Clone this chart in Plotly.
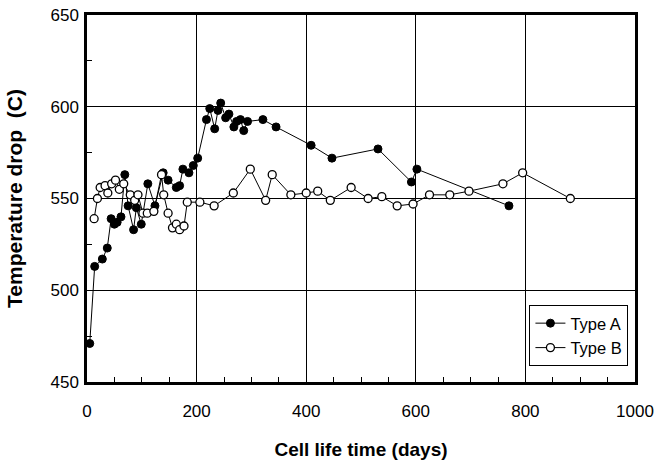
import plotly.graph_objects as go

type_a_days = [5, 14, 28, 37, 44, 50, 55, 62, 69, 75, 85, 90, 99, 111, 124, 139, 148, 163, 169, 175, 186, 194, 202,
               218, 224, 233, 239, 244, 253, 259, 268, 273, 280, 286, 293, 321, 345, 409, 447, 531, 592, 602, 770]
type_a_vals = [471, 513, 517, 523, 539, 536, 537, 540, 563, 546, 533, 545, 536, 558, 546, 564, 560, 556, 557, 566, 564, 568, 572,
               593, 599, 588, 598, 602, 594, 596, 589, 592, 593, 587, 592, 593, 589, 579, 572, 577, 559, 566, 546]

type_b_days = [13, 19, 24, 33, 38, 45, 52, 59, 67, 79, 87, 93, 102, 110, 122, 136, 140, 148, 156, 163, 169, 177, 183,
               206, 232, 267, 298, 326, 338, 372, 400, 421, 444, 482, 513, 538, 566, 595, 625, 662, 697, 759, 795, 882]
type_b_vals = [539, 550, 556, 557, 553, 558, 560, 555, 558, 552, 549, 552, 542, 542, 543, 563, 552, 542, 534, 536, 533, 535, 548,
               548, 546, 553, 566, 549, 563, 552, 553, 554, 549, 556, 550, 551, 546, 547, 552, 552, 554, 558, 564, 550]

fig = go.Figure()
fig.add_trace(go.Scatter(x=type_a_days, y=type_a_vals, mode="lines+markers", name="Type A",
                         line=dict(color="black", width=1),
                         marker=dict(symbol="circle", size=8, color="black", line=dict(color="black", width=1))))
fig.add_trace(go.Scatter(x=type_b_days, y=type_b_vals, mode="lines+markers", name="Type B",
                         line=dict(color="black", width=1),
                         marker=dict(symbol="circle", size=8, color="white", line=dict(color="black", width=1.3))))

fig.update_layout(
    width=658, height=460,
    margin=dict(l=87, r=23, t=15, b=78, autoexpand=False),
    paper_bgcolor="white", plot_bgcolor="white",
    font=dict(family="Liberation Sans, Arial, sans-serif", size=17, color="black"),
    showlegend=True,
    legend=dict(x=0.988, xanchor="right", y=0.21, yanchor="top", bgcolor="white",
                bordercolor="black", borderwidth=1, font=dict(size=16.5),
                tracegroupgap=0, itemwidth=30),
)
fig.update_xaxes(range=[0, 1000], dtick=200, tick0=0, showgrid=True, gridcolor="black", gridwidth=1,
                 showline=True, linecolor="black", linewidth=2.5, mirror=True,
                 ticks="inside", ticklen=5, tickcolor="black", automargin=False, ticklabelstandoff=12,
                 ticklabeloverflow="allow",
                 minor=dict(dtick=50, ticks="inside", ticklen=5, tickcolor="black", showgrid=False),
                 zeroline=False,
                 title=dict(text="<b>Cell life time (days)</b>", font=dict(size=19), standoff=25))
fig.update_yaxes(range=[450, 650], dtick=50, tick0=450, showgrid=True, gridcolor="black", gridwidth=1,
                 showline=True, linecolor="black", linewidth=2.5, mirror=True,
                 ticks="inside", ticklen=5, tickcolor="black", automargin=False, ticklabelstandoff=2,
                 ticklabeloverflow="allow",
                 minor=dict(dtick=25, ticks="inside", ticklen=5, tickcolor="black", showgrid=False),
                 zeroline=False,
                 title=dict(text="<b>Temperature drop  (C)</b>", font=dict(size=21), standoff=23))

fig.write_html("out.html", config={"displayModeBar": False},
               post_script="document.body.style.margin='0';document.body.style.overflow='hidden';")
